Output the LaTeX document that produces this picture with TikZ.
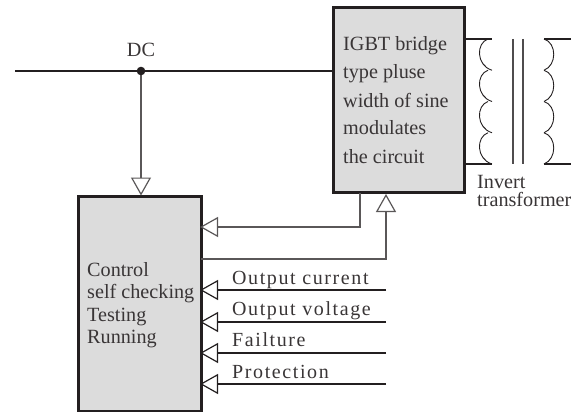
\documentclass[tikz,border=0pt]{standalone}
\usepackage{fontspec}
\setmainfont{Liberation Serif}
\newfontfamily\spaced[LetterSpace=8]{Liberation Serif}
\usetikzlibrary{arrows.meta}
\definecolor{ink}{HTML}{231F20}
\definecolor{boxgray}{HTML}{DCDCDC}
\tikzset{
  blockbox/.style={draw=ink,fill=boxgray,line width=3pt,inner sep=0pt,minimum width=0pt},
  wire/.style={draw=ink,line width=1.2pt},
  feed/.style={draw=ink!75,line width=1.4pt,-{Triangle[open,length=18pt,width=20pt,line width=1.2pt]}},
  coil/.style={draw=ink,line width=0.9pt},
  lbl/.style={anchor=base west,inner sep=0pt,font=\fontsize{20.2pt}{22pt}\selectfont,text=ink!90},
  sig/.style={anchor=base west,inner sep=0pt,font=\spaced\fontsize{20pt}{22pt}\selectfont,text=ink!90},
}
\begin{document}
\begin{tikzpicture}[x=1pt,y=-1pt]
\useasboundingbox (0,0) rectangle (571,412);
% blocks
\path[blockbox] (333,8) rectangle (464,192);
\path[blockbox] (78,196) rectangle (201,411);
\coordinate (igbtS) at (360,193);
\coordinate (igbtN) at (386,194);
\coordinate (ctlA) at (200,227);
\coordinate (ctlB) at (201,259);
\coordinate (ctlN) at (141,195.5);
% DC bus
\coordinate (busL) at (15,71);
\coordinate (igbtW) at (333,71);
\coordinate (dcdot) at (141,71);
\draw[wire] (busL) -- (igbtW);
\draw[feed] (dcdot) -- (ctlN);
\fill[ink] (dcdot) circle (4.3pt);
\node[lbl,anchor=base] (dc) at (141,57) {DC};
% links between blocks
\draw[feed] (igbtS) -- (360,227) -- (ctlA);
\draw[feed] (ctlB) -- (386,259) -- (igbtN);
% signal inputs
\foreach \y/\t/\b in {290/Output current/284,322/Output voltage/315,353/Failture/346,384/Protection/378}{
  \coordinate (in\y) at (386,\y);
  \coordinate (ctl\y) at (200,\y);
  \draw[feed,draw=ink,line width=1.2pt] (in\y) -- (ctl\y);
  \node[sig] (sig\y) at (232,\b) {\t};
}
% block texts
\foreach \y/\t in {51/IGBT bridge,79/type pluse,107/width of sine,135/modulates,164/the circuit}
  \node[lbl] (ig\y) at (343,\y) {\t};
\foreach \y/\t in {276/Control,298/self checking,321/Testing,343/Running}
  \node[lbl] (ct\y) at (87,\y) {\t};
\node[lbl,align=left,font=\fontsize{20.2pt}{18pt}\selectfont] (inv) at (477,206) {Invert\\transformer};
% transformer
\draw[wire] (464,39) -- (492,39);
\draw[wire] (464,164) -- (492,164);
\draw[wire] (544,39) -- (571,39);
\draw[wire] (544,164) -- (571,164);
\foreach \k in {0,1,2,3}{
  \pgfmathsetmacro\ya{39+31.25*\k}
  \pgfmathsetmacro\yb{39+31.25*(\k+1)}
  \draw[coil] (488,\ya) .. controls (476,\ya+4) and (476,\yb-5) .. (492,\yb);
  \draw[coil] (544,\ya) .. controls (557,\ya+4) and (557,\yb-5) .. (544,\yb);
}
\draw[draw=ink!80,line width=1.5pt] (513,39) -- (513,164);
\draw[draw=ink!80,line width=1.5pt] (523,39) -- (523,164);
\end{tikzpicture}
\end{document}
